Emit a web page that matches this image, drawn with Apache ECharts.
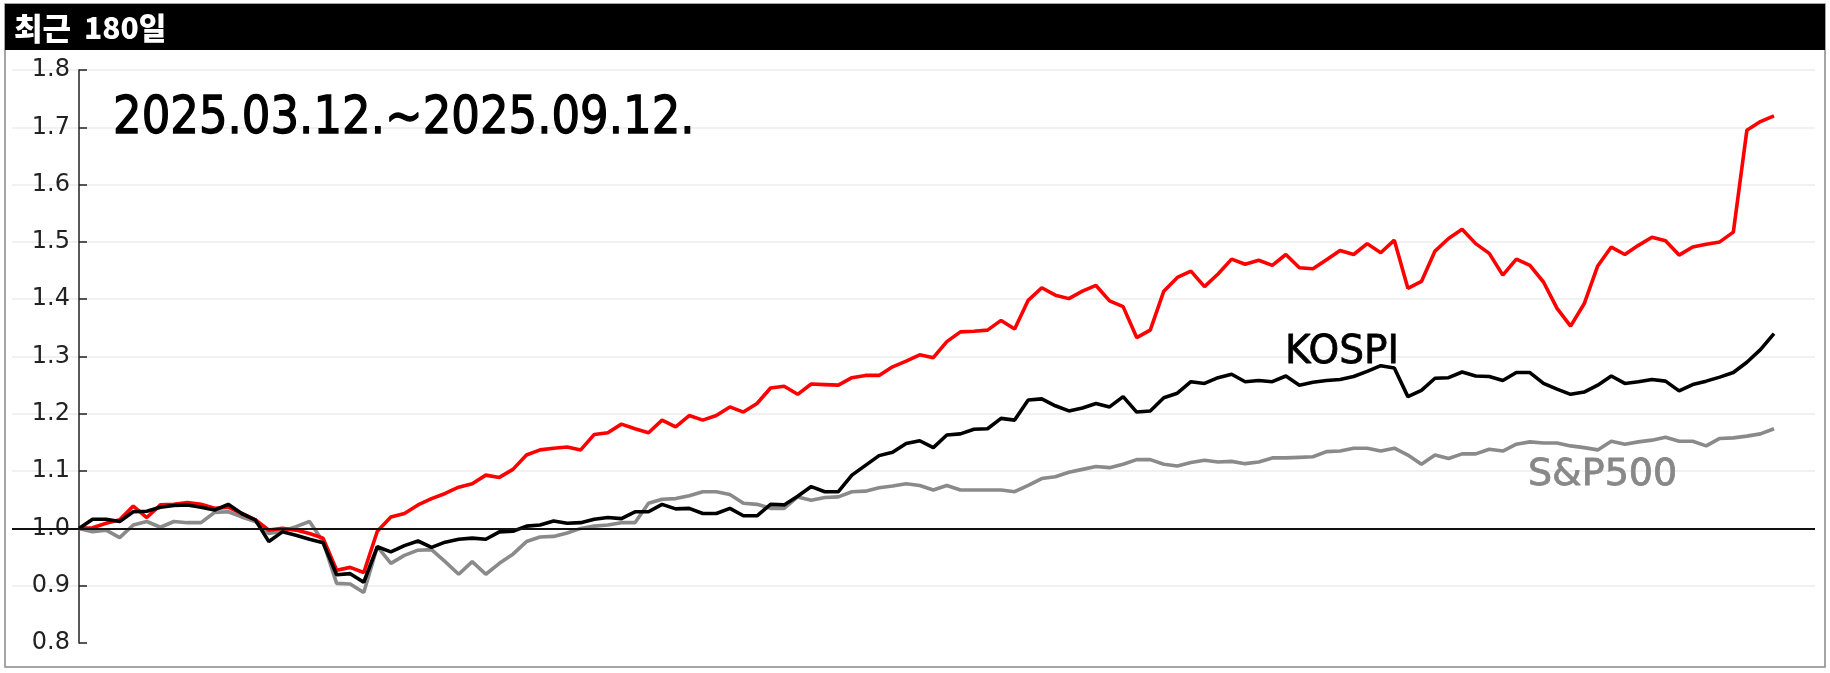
<!DOCTYPE html>
<html><head><meta charset="utf-8">
<script src="https://cdn.jsdelivr.net/npm/echarts@6/dist/echarts.min.js"></script>
<style>html,body{margin:0;padding:0;background:#fff}#c{width:1830px;height:673px}</style>
</head><body><div id="c"></div>
<script>
// ---- data (relative value, start = 1.0), one value per trading day ----
const redValues = [
1.000,1.001,1.009,1.015,1.039,1.019,1.041,1.042,1.045,1.042,
1.035,1.037,1.026,1.015,0.997,1.000,0.997,0.991,0.983,0.927,
0.932,0.923,0.995,1.020,1.026,1.041,1.052,1.061,1.072,1.078,
1.093,1.089,1.103,1.128,1.137,1.140,1.142,1.137,1.164,1.167,
1.182,1.174,1.167,1.189,1.177,1.197,1.189,1.197,1.212,1.203,
1.218,1.245,1.248,1.234,1.252,1.251,1.250,1.263,1.267,1.267,
1.282,1.292,1.303,1.298,1.326,1.343,1.344,1.346,1.363,1.348,
1.398,1.420,1.407,1.401,1.414,1.424,1.397,1.387,1.333,1.346,
1.414,1.438,1.449,1.422,1.444,1.470,1.461,1.468,1.459,1.478,
1.455,1.453,1.469,1.485,1.478,1.497,1.481,1.503,1.419,1.431,
1.484,1.506,1.522,1.497,1.480,1.442,1.470,1.459,1.430,1.384,
1.353,1.392,1.458,1.491,1.478,1.494,1.508,1.502,1.477,1.491,
1.496,1.500,1.517,1.695,1.710,1.720];
const kospiValues = [
1.000,1.016,1.016,1.012,1.029,1.030,1.037,1.040,1.041,1.037,
1.032,1.042,1.026,1.015,0.977,0.994,0.988,0.981,0.975,0.919,
0.921,0.906,0.968,0.959,0.970,0.978,0.967,0.976,0.981,0.983,
0.981,0.994,0.995,1.004,1.006,1.013,1.009,1.010,1.016,1.019,
1.017,1.029,1.029,1.042,1.034,1.035,1.026,1.026,1.035,1.022,
1.022,1.042,1.041,1.056,1.073,1.064,1.064,1.093,1.110,1.127,
1.133,1.148,1.153,1.141,1.163,1.165,1.173,1.174,1.192,1.189,
1.224,1.226,1.214,1.205,1.210,1.218,1.212,1.230,1.203,1.205,
1.228,1.236,1.256,1.253,1.263,1.269,1.256,1.258,1.256,1.266,
1.250,1.255,1.258,1.260,1.265,1.274,1.284,1.280,1.230,1.241,
1.262,1.263,1.273,1.266,1.265,1.258,1.272,1.272,1.253,1.243,
1.234,1.238,1.250,1.266,1.253,1.256,1.260,1.257,1.240,1.251,
1.257,1.264,1.272,1.290,1.312,1.340];
const spValues = [
1.000,0.994,0.997,0.984,1.006,1.012,1.002,1.012,1.010,1.010,
1.028,1.029,1.020,1.012,0.991,0.995,1.003,1.012,0.977,0.904,
0.903,0.888,0.968,0.939,0.953,0.962,0.963,0.942,0.920,0.942,
0.920,0.939,0.955,0.977,0.985,0.986,0.992,1.000,1.004,1.006,
1.010,1.010,1.044,1.051,1.052,1.057,1.064,1.064,1.059,1.044,
1.042,1.035,1.035,1.055,1.049,1.054,1.055,1.064,1.065,1.071,
1.074,1.078,1.075,1.067,1.075,1.067,1.067,1.067,1.067,1.064,
1.075,1.087,1.090,1.098,1.103,1.108,1.106,1.112,1.120,1.120,
1.112,1.109,1.115,1.119,1.116,1.117,1.113,1.116,1.123,1.123,
1.124,1.125,1.134,1.135,1.140,1.140,1.135,1.140,1.128,1.112,
1.128,1.122,1.130,1.130,1.138,1.135,1.147,1.151,1.149,1.149,
1.144,1.141,1.137,1.152,1.147,1.151,1.154,1.159,1.152,1.152,
1.144,1.157,1.158,1.161,1.165,1.174];
const yTickMin = 0.8, yTickMax = 1.8, yTickStep = 0.1;
const baseValue = 1.0;
const titleWord = '최근';
const titleDays = '180일';
const periodText = '2025.03.12.~2025.09.12.';
const kospiLabel = 'KOSPI';
const spLabel = 'S&P500';

// ---- layout ----
const W = 1830, H = 673;
const GRID_L = 12, GRID_R = 1815, X0 = 79, X_END = 1774;
const n = redValues.length;
const step = (X_END - X0) / (n - 1);
const xMin = -(X0 - GRID_L) / step;
const xMax = (n - 1) + (GRID_R - X_END) / step;
const toPairs = arr => arr.map((v, i) => [i, v]);
const LW = 3.6;

const chart = echarts.init(document.getElementById('c'), null, {renderer: 'canvas'});
chart.setOption({
  animation: false,
  backgroundColor: '#fff',
  grid: {left: GRID_L, right: W - GRID_R, top: 70, bottom: 30},
  xAxis: {type: 'value', min: xMin, max: xMax, show: false},
  yAxis: {
    type: 'value', min: yTickMin, max: yTickMax, interval: yTickStep,
    offset: -(X0 - GRID_L),
    axisLine: {show: true, onZero: false, lineStyle: {color: '#222', width: 1.5}},
    axisTick: {show: true, inside: true, length: 8, lineStyle: {color: '#222', width: 1.5}},
    axisLabel: {color: '#222', fontSize: 24, fontFamily: 'DejaVu Sans', margin: 9,
      formatter: v => v.toFixed(1)},
    splitLine: {show: true, showMinLine: false, lineStyle: {color: '#ececec', width: 1.5}}
  },
  series: [
    {name: spLabel, type: 'line', data: toPairs(spValues), showSymbol: false,
      lineStyle: {color: '#8a8a8a', width: LW}, itemStyle: {color: '#8a8a8a'},
      markLine: {silent: true, symbol: 'none', label: {show: false},
        lineStyle: {color: '#111', width: 1.8, type: 'solid'}, data: [{yAxis: baseValue}]}},
    {name: 'red', type: 'line', data: toPairs(redValues), showSymbol: false,
      lineStyle: {color: '#ff0000', width: LW}, itemStyle: {color: '#ff0000'}},
    {name: kospiLabel, type: 'line', data: toPairs(kospiValues), showSymbol: false,
      lineStyle: {color: '#000', width: LW}, itemStyle: {color: '#000'}}
  ],
  graphic: [
    {type: 'rect', shape: {x: 5, y: 4, width: 1820, height: 663}, style: {fill: 'none', stroke: '#888', lineWidth: 1.5}, z: 10},
    {type: 'rect', shape: {x: 5, y: 4, width: 1820, height: 46}, style: {fill: '#000'}, z: 10},
    {type: 'text', x: 14, y: 28, z: 11, style: {
      text: '{a|' + titleWord + '}{b|' + titleDays + '}', fill: '#fff', align: 'left', verticalAlign: 'middle',
      rich: {
        a: {fontSize: 31, fontWeight: 900, fontFamily: 'Noto Sans CJK KR', fill: '#fff'},
        b: {fontSize: 30, fontWeight: 900, fontFamily: 'Noto Sans CJK KR', fill: '#fff', padding: [0, 0, 0, 13]}
      }}},
    {type: 'text', x: 113, y: 120, scaleY: 1.13, z: 11, style: {text: periodText, fill: '#000', fontSize: 45,
      fontFamily: 'DejaVu Sans', align: 'left', verticalAlign: 'middle', stroke: '#000', lineWidth: 1.2}},
    {type: 'text', x: 1285, y: 353, z: 11, style: {text: kospiLabel, fill: '#000', fontSize: 39,
      fontFamily: 'DejaVu Sans', align: 'left', verticalAlign: 'middle', stroke: '#000', lineWidth: 0.8}},
    {type: 'text', x: 1528, y: 475, z: 11, style: {text: spLabel, fill: '#888', fontSize: 38,
      fontFamily: 'DejaVu Sans', align: 'left', verticalAlign: 'middle', stroke: '#888', lineWidth: 0.8}}
  ]
});
</script></body></html>
